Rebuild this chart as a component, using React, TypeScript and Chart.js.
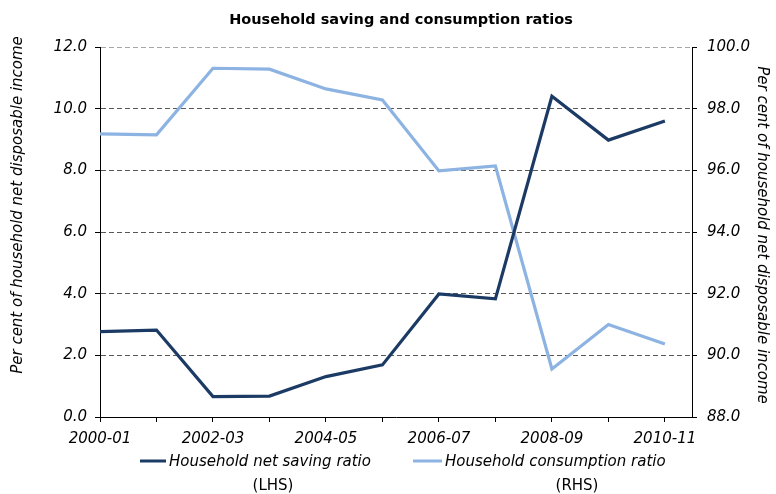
import React, { useEffect, useRef } from "react";
import { Chart, registerables } from "chart.js";

Chart.register(...registerables);

const categories = [
  "2000-01", "2001-02", "2002-03", "2003-04", "2004-05", "2005-06",
  "2006-07", "2007-08", "2008-09", "2009-10", "2010-11",
];
const savingRatio = [2.77, 2.82, 0.66, 0.68, 1.31, 1.69, 3.99, 3.83, 10.4, 8.98, 9.6];
const consumptionRatio = [97.18, 97.15, 99.31, 99.28, 98.64, 98.28, 95.98, 96.14, 89.56, 91.0, 90.37];
const leftTicks = [0, 2, 4, 6, 8, 10, 12];
const rightTicks = [88, 90, 92, 94, 96, 98, 100];

const titleText = "Household saving and consumption ratios";
const axisTitle = "Per cent of household net disposable income";
const legendItems = [
  { label: "Household net saving ratio", sub: "(LHS)" },
  { label: "Household consumption ratio", sub: "(RHS)" },
];

const DARK = "#1b3a64";
const LIGHT = "#8db3e2";
const FONT = "'DejaVu Sans', Verdana, sans-serif";

export default function App() {
  const ref = useRef<HTMLCanvasElement | null>(null);

  useEffect(() => {
    document.body.style.margin = "0";
    const canvas = ref.current;
    if (!canvas) return;

    const decorations = {
      id: "decorations",
      afterDraw(chart: any) {
        const ctx = chart.ctx;
        ctx.save();
        ctx.fillStyle = "#000";
        // title
        ctx.font = `bold 14.5px ${FONT}`;
        ctx.textAlign = "center";
        ctx.textBaseline = "middle";
        ctx.fillText(titleText, 401, 20);
        // axis titles
        ctx.font = `italic 15px ${FONT}`;
        ctx.save();
        ctx.translate(18, 205);
        ctx.rotate(-Math.PI / 2);
        ctx.fillText(axisTitle, 0, 0);
        ctx.restore();
        ctx.save();
        ctx.translate(762, 235);
        ctx.rotate(Math.PI / 2);
        ctx.fillText(axisTitle, 0, 0);
        ctx.restore();
        // legend
        const colors = [DARK, LIGHT];
        const lineX = [[140, 166], [413, 442]];
        const textX = [169, 445];
        const subX = [273, 577];
        legendItems.forEach((it, i) => {
          ctx.strokeStyle = colors[i];
          ctx.lineWidth = 3;
          ctx.beginPath();
          ctx.moveTo(lineX[i][0], 461);
          ctx.lineTo(lineX[i][1], 461);
          ctx.stroke();
          ctx.font = `italic 15px ${FONT}`;
          ctx.textAlign = "left";
          ctx.fillText(it.label, textX[i], 462);
          ctx.font = `15px ${FONT}`;
          ctx.textAlign = "center";
          ctx.fillText(it.sub, subX[i], 486);
        });
        ctx.restore();
      },
    };

    const tickFont = { family: FONT, size: 15, style: "italic" as const };

    const chart = new Chart(canvas, {
      type: "line",
      data: {
        datasets: [
          {
            label: legendItems[0].label,
            data: savingRatio.map((v, i) => ({ x: i, y: v })),
            borderColor: DARK,
            backgroundColor: DARK,
            borderWidth: 3.2,
            pointRadius: 0,
            tension: 0,
            yAxisID: "y",
          },
          {
            label: legendItems[1].label,
            data: consumptionRatio.map((v, i) => ({ x: i, y: v })),
            borderColor: LIGHT,
            backgroundColor: LIGHT,
            borderWidth: 3.2,
            pointRadius: 0,
            tension: 0,
            yAxisID: "y2",
          },
        ],
      },
      options: {
        responsive: false,
        animation: false,
        layout: { padding: { top: 47, left: 0, right: 0, bottom: 0 } },
        plugins: {
          legend: { display: false },
          title: { display: false },
          tooltip: { enabled: false },
        },
        scales: {
          x: {
            type: "linear",
            min: 0,
            max: 10.48,
            afterBuildTicks: (s: any) => {
              s.ticks = categories.map((_, i) => ({ value: i }));
            },
            afterFit: (s: any) => {
              s.height = 77;
            },
            ticks: {
              autoSkip: false,
              maxRotation: 0,
              minRotation: 0,
              padding: 8,
              color: "#000",
              font: tickFont,
              callback: (v: any) => (Number(v) % 2 === 0 ? categories[Number(v)] : ""),
            },
            grid: { drawOnChartArea: false, drawTicks: true, tickLength: 5, tickColor: "#000" },
            border: { display: true, color: "#000", width: 1 },
          },
          y: {
            type: "linear",
            position: "left",
            min: 0,
            max: 12,
            afterBuildTicks: (s: any) => {
              s.ticks = leftTicks.map((v) => ({ value: v }));
            },
            afterFit: (s: any) => {
              s.width = 100;
            },
            ticks: {
              padding: 8,
              color: "#000",
              font: tickFont,
              callback: (v: any) => Number(v).toFixed(1),
            },
            grid: {
              drawOnChartArea: true,
              drawTicks: true,
              tickLength: 5,
              tickColor: "#000",
              color: (c: any) => (c.tick && c.tick.value === 12 ? "#a6a6a6" : c.tick && c.tick.value === 0 ? "#000" : "#595959"),
              lineWidth: 1,
            },
            border: { display: true, color: "#000", width: 1, dash: [5, 3] },
          },
          y2: {
            type: "linear",
            position: "right",
            min: 88,
            max: 100,
            afterBuildTicks: (s: any) => {
              s.ticks = rightTicks.map((v) => ({ value: v }));
            },
            afterFit: (s: any) => {
              s.width = 84;
            },
            ticks: {
              padding: 10,
              color: "#000",
              font: tickFont,
              callback: (v: any) => Number(v).toFixed(1),
            },
            grid: { drawOnChartArea: false, drawTicks: true, tickLength: 5, tickColor: "#000" },
            border: { display: true, color: "#000", width: 1 },
          },
        },
      },
      plugins: [decorations],
    });

    return () => chart.destroy();
  }, []);

  return <canvas ref={ref} width={776} height={494} style={{ display: "block" }} />;
}
